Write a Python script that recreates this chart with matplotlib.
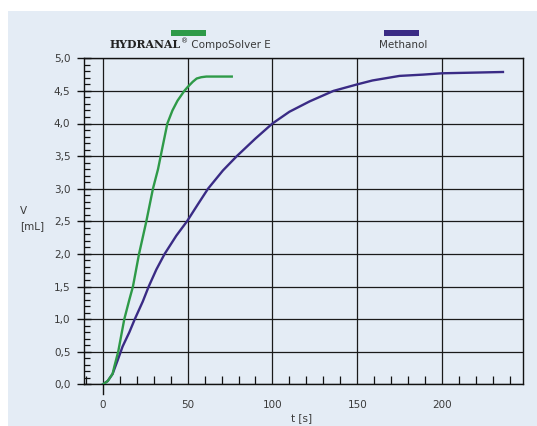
import matplotlib
matplotlib.use("Agg")
import matplotlib.pyplot as plt
from matplotlib.ticker import MultipleLocator, FixedLocator, FuncFormatter
from matplotlib.patches import Rectangle
from matplotlib.lines import Line2D
import matplotlib.transforms as mtransforms

# ---- data ----
t_compo = [0, 2.8, 5.7, 6.7, 9, 12.6, 15.6, 17.7, 21.3, 25.6, 29.5, 32.5, 35, 38, 41,
           44, 48, 50, 53, 55.3, 58, 61, 66, 71, 76]
v_compo = [0, 0.05, 0.16, 0.27, 0.5, 1.0, 1.3, 1.5, 2.0, 2.5, 3.0, 3.3, 3.62, 4.0, 4.2,
           4.35, 4.5, 4.56, 4.64, 4.69, 4.71, 4.72, 4.72, 4.72, 4.72]

t_meoh = [0, 2.8, 5.7, 8.7, 11.6, 15.6, 18.8, 23.5, 27, 31.5, 36.4, 43.3, 49.6, 56, 62,
          70.8, 79, 90, 100, 110, 122, 136, 150, 159, 175, 189, 200, 218, 236]
v_meoh = [0, 0.05, 0.16, 0.37, 0.58, 0.8, 1.0, 1.27, 1.5, 1.76, 2.0, 2.28, 2.5, 2.76, 3.0,
          3.28, 3.5, 3.77, 4.0, 4.18, 4.34, 4.5, 4.6, 4.66, 4.73, 4.75, 4.77, 4.78, 4.79]

series_names = ["CompoSolver E", "Methanol"]
x_ticks = [0, 50, 100, 150, 200]
y_ticks = [0.0, 0.5, 1.0, 1.5, 2.0, 2.5, 3.0, 3.5, 4.0, 4.5, 5.0]

GREEN = "#2e9a48"
PURPLE = "#3a2b85"
BG = "#e4ecf5"
TXT = "#3a3a3a"

W, H = 537, 426
fig = plt.figure(figsize=(W / 100, H / 100), dpi=100)
fig.patch.set_facecolor("white")
fig.add_artist(Rectangle((8 / W, 0), 1 - 8 / W, (H - 11) / H, transform=fig.transFigure,
                         facecolor=BG, edgecolor="none", zorder=-10))

ax = fig.add_axes([84.3 / W, (H - 384.3) / H, (523.3 - 84.3) / W, (384.3 - 58.3) / H])
ax.set_facecolor(BG)
ax.set_xlim(-11, 248)
ax.set_ylim(0, 5.0)

for s in ax.spines.values():
    s.set_color("#111111")
    s.set_linewidth(1.0)

# grid
ax.xaxis.set_major_locator(FixedLocator(x_ticks))
ax.yaxis.set_major_locator(FixedLocator(y_ticks))
ax.xaxis.set_minor_locator(MultipleLocator(10))
ax.yaxis.set_minor_locator(MultipleLocator(0.1))
ax.grid(True, which="major", color="#1a1a1a", linewidth=0.9)
ax.set_axisbelow(True)

ax.yaxis.set_major_formatter(FuncFormatter(lambda v, p: f"{v:.1f}".replace(".", ",")))
ax.xaxis.set_major_formatter(FuncFormatter(lambda v, p: f"{v:.0f}"))

ax.tick_params(axis="y", which="major", direction="inout", length=10, width=1.0,
               color="#111111", labelsize=7.5, labelcolor=TXT, pad=5)
ax.tick_params(axis="y", which="minor", direction="in", length=4, width=0.9, color="#111111")
ax.tick_params(axis="x", which="major", length=0, labelsize=7.5, labelcolor=TXT, pad=11)
ax.tick_params(axis="x", which="minor", direction="in", length=6, width=0.9, color="#111111")

# x=0 extension below axis
trans = mtransforms.blended_transform_factory(ax.transData, ax.transAxes)
ax.add_line(Line2D([0, 0], [-0.03, 0], transform=trans, color="#111111", lw=1.0, clip_on=False))

# curves
ax.plot(t_meoh, v_meoh, color=PURPLE, lw=1.7, zorder=3, solid_joinstyle="round")
ax.plot(t_compo, v_compo, color=GREEN, lw=1.7, zorder=4, solid_joinstyle="round")

# axis labels
fig.text(20 / W, 1 - 211 / H, "V", ha="left", va="center", fontsize=7.5, color=TXT)
fig.text(20 / W, 1 - 226 / H, "[mL]", ha="left", va="center", fontsize=7.5, color=TXT)
fig.text(302 / W, 1 - 418 / H, "t [s]", ha="center", va="center", fontsize=7.5, color=TXT)

# legend (custom, above plot)
fig.add_artist(Rectangle((171 / W, 1 - 35.5 / H), 35 / W, 5.5 / H, transform=fig.transFigure,
                         facecolor=GREEN, edgecolor="none"))
fig.add_artist(Rectangle((384 / W, 1 - 35.5 / H), 35 / W, 5.5 / H, transform=fig.transFigure,
                         facecolor=PURPLE, edgecolor="none"))

fig.canvas.draw()
r = fig.canvas.get_renderer()
ly = 1 - 44.5 / H
t1 = fig.text(0, ly, "HYDRANAL", fontsize=7.8, fontweight="bold", family="DejaVu Serif",
              color="#222222", va="center", ha="left")
t2 = fig.text(0, ly + 3 / H, "®", fontsize=5, color="#222222", va="center", ha="left")
t3 = fig.text(0, ly, " " + series_names[0], fontsize=7.5, color=TXT, va="center", ha="left")
w1 = t1.get_window_extent(r).width
w2 = t2.get_window_extent(r).width
w3 = t3.get_window_extent(r).width
total = w1 + w2 + w3
x0 = 190 - total / 2
t1.set_x(x0 / W)
t2.set_x((x0 + w1) / W)
t3.set_x((x0 + w1 + w2) / W)
fig.text(403 / W, ly, series_names[1], fontsize=7.5, color=TXT, va="center", ha="center")

fig.savefig("out.png", dpi=100, facecolor="white")
